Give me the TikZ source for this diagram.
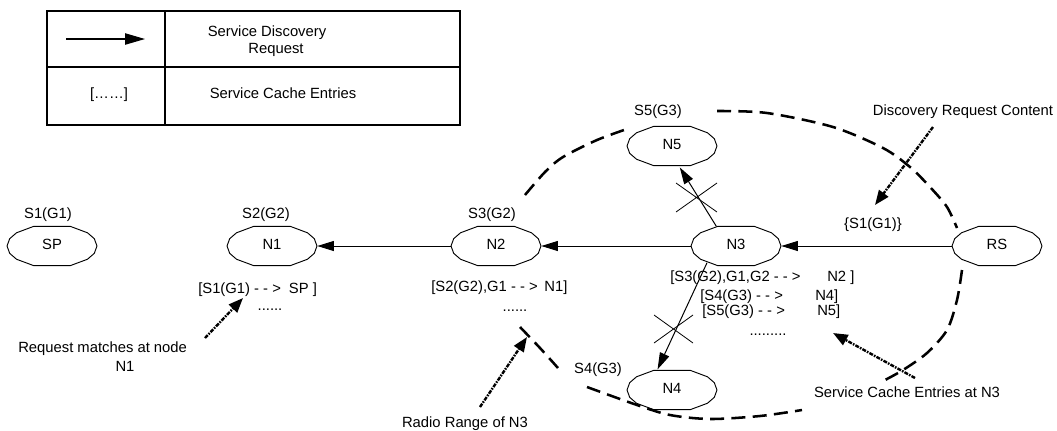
\documentclass[tikz,border=0pt]{standalone}
\usepackage{fontspec}
\setmainfont{Liberation Sans}
\usetikzlibrary{arrows.meta,calc,shapes.geometric}
\begin{document}
\begin{tikzpicture}[x=0.75pt,y=-0.75pt,
  every node/.style={font=\fontsize{11.1}{13.3}\selectfont, inner sep=0pt, text height=8pt, text depth=2.4pt},
  hostnode/.style={ellipse, minimum width=67.5pt, minimum height=32.25pt},
  outline/.style={line width=0.7pt, line join=round},
  frame/.style={line width=0.9pt},
  request/.style={line width=0.75pt, -{Triangle[length=12.5pt,width=7.5pt]}},
  legendarrow/.style={line width=0.9pt, -{Triangle[length=15pt,width=8.5pt]}},
  rangecurve/.style={line width=1.9pt, dash pattern=on 10.5pt off 5.5pt},
  pointer/.style={line width=1.8pt, dash pattern=on 3pt off 0.9pt on 1.2pt off 0.9pt, -{Triangle[length=11pt,width=8.5pt]}},
  crossmark/.style={line width=0.6pt},
]
\useasboundingbox (0,0) rectangle (1057,430);

% legend table
\draw[frame] (47,11) rectangle (460,125);
\draw[frame] (165,11) -- (165,125);
\draw[frame] (47,67) -- (460,67);
\coordinate (la) at (66,39);
\coordinate (lb) at (145,39);
\draw[legendarrow] (la) -- (lb);
\node (lt1) at (267,33) {Service Discovery};
\node (lt2) at (276,50) {Request};
\node (lc) at (109,95) {[……]};
\node (lt3) at (283,95) {Service Cache Entries};

% hosts
\node[hostnode] (SP) at (52,246) {SP};
\node[hostnode] (N1) at (272,246) {N1};
\node[hostnode] (N2) at (496,246) {N2};
\node[hostnode] (N3) at (736,246) {N3};
\node[hostnode] (RS) at (997,246) {RS};
\node[hostnode] (N5) at (672,146) {N5};
\node[hostnode] (N4) at (672,390) {N4};
\foreach \n in {SP,N1,N2,N3,RS,N5,N4}
  \draw[outline] ($(\n)+(45,0)$)
    \foreach \a in {20,38,66,114,142,160,180,200,218,246,294,322,340} {-- ($(\n)+({45*cos(\a)},{21.5*sin(\a)})$)} -- cycle;

% service labels
\node (sSP) at (48,215) {S1(G1)};
\node (sN1) at (266,215) {S2(G2)};
\node (sN2) at (492,215) {S3(G2)};
\node (sN5) at (658,112) {S5(G3)};
\node (sN4) at (598,370) {S4(G3)};

% request forwarding
\draw[request] (RS.west) -- (N3.east);
\draw[request] (N3.west) -- (N2.east);
\draw[request] (N2.west) -- (N1.east);
\draw[request] (N3.135) -- (N5.-70);
\draw[request] (N3.210) -- (N4.125);

% blocked links
\coordinate (x1a) at (676,183); \coordinate (x1b) at (717,212);
\coordinate (x1c) at (676,212); \coordinate (x1d) at (717,183);
\draw[crossmark] (x1a) -- (x1b) (x1c) -- (x1d);
\coordinate (x2a) at (654,315); \coordinate (x2b) at (693,343);
\coordinate (x2c) at (654,343); \coordinate (x2d) at (693,315);
\draw[crossmark] (x2a) -- (x2b) (x2c) -- (x2d);

% cache entries
\node[anchor=west] (cN1) at (198,290) {[S1(G1) - - >\hspace{6pt}SP ]};
\node (dN1) at (270,307) {......};
\node[anchor=west] (cN2) at (431,288) {[S2(G2),G1 - - >\hspace{5pt}N1]};
\node (dN2) at (515,308) {......};
\node[anchor=west] (cN3a) at (670,278) {[S3(G2),G1,G2 - - >};
\node[anchor=west] (cN3b) at (827,278) {N2 ]};
\node[anchor=west] (cN3c) at (700,297) {[S4(G3) - - >};
\node[anchor=west] (cN3d) at (815,297) {N4]};
\node[anchor=west] (cN3e) at (702,312) {[S5(G3) - - >};
\node[anchor=west] (cN3f) at (817,312) {N5]};
\node (dN3) at (768,332) {.........};
\node (req) at (873,225) {\{S1(G1)\}};

% radio range of N3
\draw[rangecurve] plot[smooth] coordinates {(525,195) (545,172) (563,157) (597,140) (627,129)};
\draw[rangecurve] plot[smooth] coordinates {(717,111) (767,113) (833,127) (883,148) (910,167) (930,187) (947,207) (957,228)};
\draw[rangecurve] plot[smooth] coordinates {(962,270) (957,300) (947,330) (927,353) (903,370) (885,380)};
\draw[rangecurve] plot[smooth] coordinates {(520,327) (540,348) (558,368)};
\draw[rangecurve] plot[smooth] coordinates {(587,387) (637,405) (670,415) (710,419) (760,416) (802,410)};

% annotations
\node[anchor=west] (a1) at (18,349) {Request matches at node};
\node (a1b) at (125,368) {N1};
\coordinate (p1t) at (205,338); \coordinate (p1h) at (243,298);
\draw[pointer] (p1t) -- (p1h);
\node (a2) at (465,424) {Radio Range of N3};
\coordinate (p2t) at (480,407); \coordinate (p2h) at (527,337);
\draw[pointer] (p2t) -- (p2h);
\node (a3) at (963,112) {Discovery Request Content};
\coordinate (p3t) at (933,127); \coordinate (p3h) at (875,205);
\draw[pointer] (p3t) -- (p3h);
\node (a4) at (907,394) {Service Cache Entries at N3};
\coordinate (p4t) at (915,378); \coordinate (p4h) at (833,333);
\draw[pointer] (p4t) -- (p4h);
\end{tikzpicture}
\end{document}
